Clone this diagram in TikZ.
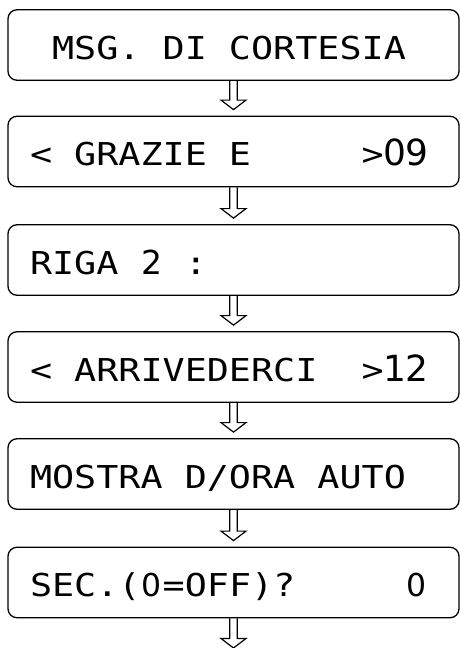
\documentclass[tikz,border=0pt]{standalone}
\usepackage{fontspec}
\usetikzlibrary{calc}
\newfontfamily\lcdfam[FakeStretch=1.166]{DejaVu Sans Mono}
\newfontfamily\digfam{DejaVu Sans}
\newcommand\lcdfont{\lcdfam\fontsize{31.5pt}{36pt}\selectfont}
\newlength\pitch
\AtBeginDocument{\settowidth\pitch{\lcdfont X}}
\newcommand\gap[1]{\hspace*{#1\pitch}}
\newcommand\dg[1]{\makebox[\pitch][c]{\digfam\fontsize{36pt}{36pt}\selectfont #1}}
\newcommand\dgm[1]{\makebox[\pitch][c]{\digfam\fontsize{33pt}{33pt}\selectfont #1}}
\newcommand\dgs[1]{\makebox[\pitch][c]{\digfam\fontsize{31.5pt}{32pt}\selectfont #1}}
\tikzset{
  lcdbox/.style={draw=black, line width=1.3pt, rounded corners=9pt,
    minimum width=451pt, minimum height=70.5pt, inner sep=0pt,
    text width=407pt, align=left, text height=28pt, text depth=0pt,
    font=\lcdfont},
  harr/.style={draw=black, line width=1.2pt, miter limit=10}
}
\newcommand\harrow[2]{%
  \draw[harr] let \p1=(#1.south), \p2=(#2) in
    (\x1-3.8pt,\y1) -- (\x1-3.8pt,\y2+15.5pt) -- (\x1-12.5pt,\y2+15.5pt)
    -- (\x1,\y2+6pt) -- (\x1+12.5pt,\y2+15.5pt) -- (\x1+3.8pt,\y2+15.5pt)
    -- (\x1+3.8pt,\y1);}
\begin{document}
\begin{tikzpicture}[x=1pt,y=-1pt]
\useasboundingbox (0,0) rectangle (460,648);
\node[lcdbox] (b1) at (233.5,45) {\gap{1}MSG.\gap{1}DI\gap{1}CORTESIA};
\node[lcdbox] (b2) at (233.5,151.5) {<\gap{1}GRAZIE\gap{1}E\gap{5}>\dg{0}\dg{9}};
\node[lcdbox] (b3) at (233.5,260) {RIGA\gap{1}\dgm{2}\gap{1}:};
\node[lcdbox] (b4) at (233.5,367) {<\gap{1}ARRIVEDERCI\gap{2}>\dg{1}\dg{2}};
\node[lcdbox] (b5) at (233.5,474) {MOSTRA\gap{1}D/ORA\gap{1}AUTO};
\node[lcdbox] (b6) at (233.5,582.5) {SEC.(\dgs{0}=OFF)?\gap{5}\dgs{0}};
\coordinate (e) at (232,654);
\harrow{b1}{b2.north}
\harrow{b2}{b3.north}
\harrow{b3}{b4.north}
\harrow{b4}{b5.north}
\harrow{b5}{b6.north}
\harrow{b6}{e}
\end{tikzpicture}
\end{document}
